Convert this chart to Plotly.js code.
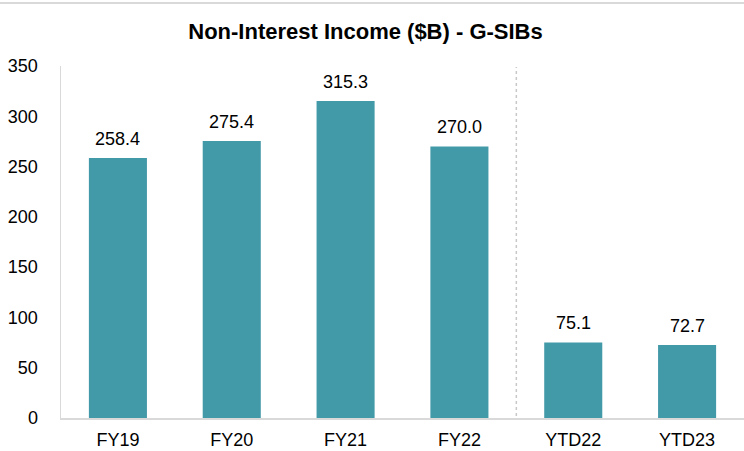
<!DOCTYPE html>
<html>
<head>
<meta charset="utf-8">
<script src="https://cdn.plot.ly/plotly-3.0.1.min.js"></script>
<style>html,body{margin:0;padding:0;background:#fff;}#chart{width:744px;height:451px;}</style>
</head>
<body>
<div id="chart"></div>
<script>
const categories = ["FY19", "FY20", "FY21", "FY22", "YTD22", "YTD23"];
const values = [258.4, 275.4, 315.3, 270.0, 75.1, 72.7];
const yTicks = [0, 50, 100, 150, 200, 250, 300, 350];
const chartTitle = "Non-Interest Income ($B) - G-SIBs";

const font = "Arial, 'Liberation Sans', sans-serif";

const trace = {
  type: "bar",
  x: categories,
  y: values,
  marker: {color: "#4299a8", line: {width: 0}},
  cliponaxis: false,
  hoverinfo: "none"
};

const labels = categories.map((c, i) => ({
  x: c, y: values[i], xref: "x", yref: "y",
  text: values[i].toFixed(1),
  showarrow: false,
  xanchor: "center", yanchor: "bottom",
  yshift: 7,
  font: {family: font, size: 18, color: "#000"}
}));

const layout = {
  width: 744,
  height: 451,
  margin: {l: 61, r: 0, t: 65.5, b: 33, pad: 0},
  paper_bgcolor: "#fff",
  plot_bgcolor: "#fff",
  bargap: 0.49,
  showlegend: false,
  font: {family: font, size: 18, color: "#000"},
  title: {
    text: "<b>" + chartTitle + "</b>",
    font: {family: font, size: 22, color: "#000"},
    x: 365.5 / 744, xanchor: "center", xref: "container",
    y: 1 - 31 / 451, yanchor: "middle", yref: "container"
  },
  xaxis: {
    type: "category",
    showgrid: false,
    showline: true,
    linecolor: "#d9d9d9",
    linewidth: 1.5,
    ticks: "",
    ticklabelstandoff: 5,
    tickfont: {family: font, size: 18, color: "#000"},
    zeroline: false
  },
  yaxis: {
    range: [0, 350],
    tickvals: yTicks,
    ticktext: yTicks.map(String),
    showgrid: false,
    showline: true,
    linecolor: "#d9d9d9",
    linewidth: 1.5,
    ticks: "",
    ticklabelstandoff: 18,
    tickfont: {family: font, size: 18, color: "#000"},
    zeroline: false
  },
  annotations: labels,
  shapes: [
    {type: "line", xref: "x", yref: "y", x0: 3.5, x1: 3.5, y0: 2, y1: 349,
     line: {color: "#c8c8c8", width: 1.5, dash: "3px,3px"}},
    {type: "line", xref: "paper", yref: "paper", x0: -0.1, x1: 1.05,
     y0: 1 + (65.5 - 2.5) / 352.5, y1: 1 + (65.5 - 2.5) / 352.5,
     line: {color: "#d9d9d9", width: 2}}
  ]
};

Plotly.newPlot("chart", [trace], layout, {displayModeBar: false, staticPlot: true});
</script>
</body>
</html>
